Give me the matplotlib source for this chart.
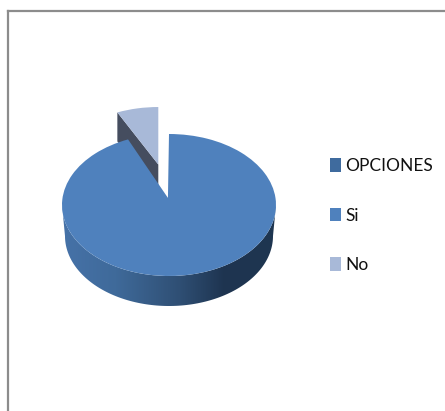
import numpy as np
import matplotlib
matplotlib.use('Agg')
import matplotlib.pyplot as plt
from matplotlib.colors import LinearSegmentedColormap
from matplotlib.lines import Line2D
from matplotlib.patches import Patch, Polygon

labels = ['OPCIONES', 'Si', 'No']
legend_colors = ['#3f6b9e', '#4f81bd', '#a8b9d8']
values = [15, 1]

W, H = 445, 411

fig = plt.figure(figsize=(W / 100, H / 100), dpi=100, facecolor='white')
ax = fig.add_axes([0, 0, 1, 1])

wedges, _ = ax.pie(values, startangle=90, counterclock=False,
                   colors=[legend_colors[1], legend_colors[2]], radius=1)
si, no = wedges

# el pie se aplasta para que parezca 3D: 107 px de ancho, 71 px de alto
ax.set_aspect('auto')
ax.axis('off')


def move_apex(wedge, apex):
    path = wedge.get_path()
    v = path.vertices.copy()
    near = np.all(np.isclose(v, wedge.center), axis=1)
    v[near] = apex
    path.vertices = v


# porcion separada
no.set_center((-0.10, 0.38))
no_apex = (-0.10, 0.57)
move_apex(no, no_apex)
move_apex(si, (-0.01, 0.10))
no.set_zorder(2)
si.set_zorder(4)

# pared de la porcion No
t = np.radians(no.theta2)
corner = (no.center[0] + np.cos(t), no.center[1] + np.sin(t))
depth = 29 / 71
ax.add_patch(Polygon([corner, no_apex,
                      (no_apex[0], no_apex[1] - depth),
                      (corner[0], corner[1] - depth)],
                     closed=True, facecolor='#454d5f', edgecolor='none', zorder=1))

# pared del cilindro con degradado
ang = np.linspace(np.pi, 2 * np.pi, 120)
top = np.column_stack([np.cos(ang), np.sin(ang)])
bottom = np.column_stack([104 / 107 * np.cos(ang), 70 / 71 * np.sin(ang) - 31 / 71])
wall = Polygon(np.vstack([top, bottom[::-1]]), closed=True, facecolor='none',
               edgecolor='none', transform=ax.transData, zorder=3)
ax.add_patch(wall)
cmap = LinearSegmentedColormap.from_list(
    'wall', [(0, '#4672a8'), (0.25, '#3f6a9a'), (0.55, '#2f4f74'),
             (0.76, '#1e3450'), (1, '#1f3651')])
img = ax.imshow(np.linspace(0, 1, 256).reshape(1, -1), cmap=cmap, aspect='auto',
                extent=(-1, 1, -1.5, 0.1), zorder=3)
img.set_clip_path(wall)
ax.set_xlim((0 - 169) / 107, (W - 169) / 107)
ax.set_ylim((205 - H) / 71, 205 / 71)

# marco
frame = '#8c8c8c'
fig.add_artist(Line2D([8 / W, 8 / W], [0, 1 - 11 / H], color=frame, lw=1.6))
fig.add_artist(Line2D([8 / W, 1], [1 - 11 / H, 1 - 11 / H], color=frame, lw=1.6))

handles = [Patch(facecolor=c, edgecolor='none') for c in legend_colors]
fig.legend(handles, labels, loc='upper left', bbox_to_anchor=(330 / W, 1 - 158 / H),
           frameon=False, borderpad=0, borderaxespad=0,
           prop={'family': 'Lato', 'size': 12.5},
           labelcolor='#111111', handlelength=0.62, handleheight=0.85,
           handletextpad=0.28, labelspacing=1.93)

fig.savefig('out.png', dpi=100)
